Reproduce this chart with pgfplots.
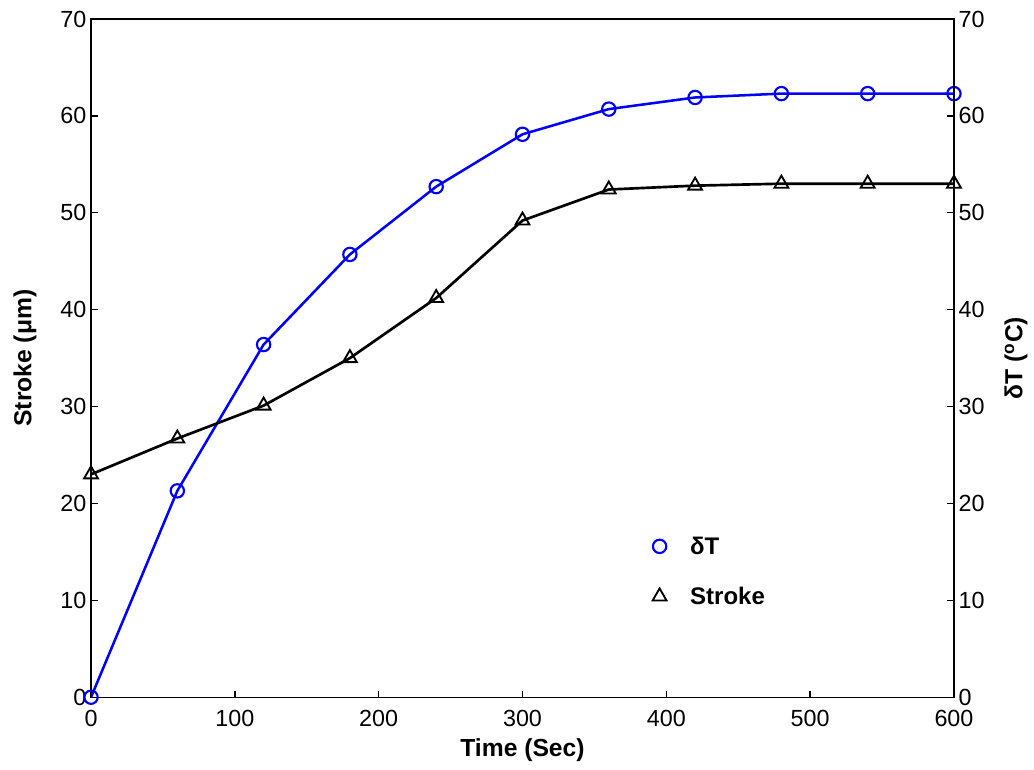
\documentclass[border=0pt]{standalone}
\usepackage{pgfplots}
\pgfplotsset{compat=1.18}
\usepackage{fontspec}
\setmainfont{Liberation Sans}
\begin{document}
\begin{tikzpicture}
\pgfplotsset{
  every axis/.append style={
    width=647pt, height=508.5pt, scale only axis,
    xmin=0, xmax=600, ymin=0, ymax=70,
    tick align=inside, major tick length=5pt,
    /pgf/number format/assume math mode=true,
    tick label style={font=\fontsize{17.5}{20}\selectfont},
    label style={font=\fontsize{18.5}{22}\selectfont\bfseries},
    axis line style={line width=1pt}, every tick/.style={line width=1pt, black},
  }
}
\begin{axis}[
  xtick={0,100,...,600}, ytick={0,10,...,70},
  xtick pos=bottom, ytick pos=left,
  xticklabel style={yshift=-6.5pt},
  xlabel={Time (Sec)}, ylabel={Stroke (μm)},
  xlabel style={yshift=-1.5pt}, ylabel style={yshift=11pt},
  legend style={at={(0.637,0.245)}, anchor=north west, draw=none, fill=none,
    font=\fontsize{18}{22}\selectfont\bfseries, row sep=19pt},
  legend cell align=left,
  legend image code/.code={\draw[#1] plot[only marks] coordinates {(0.35cm,0cm)}; \path (0,0) (1.05cm,0);},
]
\addplot[blue, line width=1.9pt, mark=o, mark size=5pt, mark options={line width=1.6pt}]
coordinates {(0,0) (60,21.3) (120,36.4) (180,45.7) (240,52.7) (300,58.1) (360,60.7) (420,61.9) (480,62.3) (540,62.3) (600,62.3)};
\addlegendentry{δT}
\addplot[black, line width=2pt, mark=triangle, mark size=6pt, mark options={line width=1.4pt}]
coordinates {(0,23.0) (60,26.7) (120,30.1) (180,35.0) (240,41.2) (300,49.2) (360,52.4) (420,52.8) (480,53.0) (540,53.0) (600,53.0)};
\addlegendentry{Stroke}
\end{axis}
\begin{axis}[
  axis x line=none, axis y line*=right,
  ytick={0,10,...,70}, ytick pos=right,
  ylabel={δT (\textsuperscript{o}C)},
  ylabel style={yshift=-8pt},
]
\end{axis}
\path[use as bounding box] ([shift={(-68.25pt,-54pt)}]current axis.south west) rectangle ([shift={(60pt,14.25pt)}]current axis.north east);
\end{tikzpicture}
\end{document}
